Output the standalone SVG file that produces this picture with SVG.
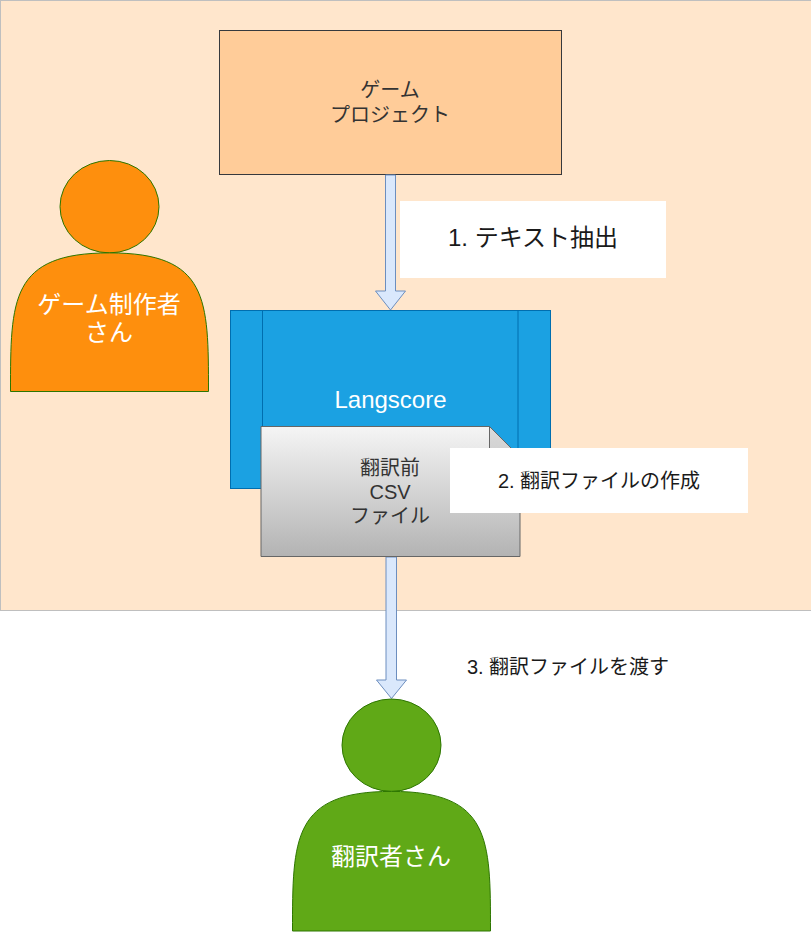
<svg xmlns="http://www.w3.org/2000/svg" width="811" height="932" viewBox="0 0 811 932">
<defs>
<linearGradient id="doc" x1="0" y1="0" x2="0" y2="1"><stop offset="0" stop-color="#f5f5f5"/><stop offset="1" stop-color="#b3b3b3"/></linearGradient>
</defs>
<style>
text{font-family:"Liberation Sans","Noto Sans CJK JP",sans-serif;text-anchor:middle}
.arrow{fill:#dae8fc;stroke:#6c8ebf;stroke-width:1}
.dark{fill:#333333}
.blk{fill:#1a1a1a}
.wht{fill:#ffffff}
.s24{font-size:24px}.s20{font-size:20px}
</style>
<g id="panel"><rect x="0.5" y="0.5" width="811" height="610" fill="#ffe6cc" stroke="#bfbfbf"/></g>
<g id="project"><rect x="219.5" y="30.5" width="342" height="144" fill="#ffcc99" stroke="#36393d"/>
<text class="s20 dark" x="390" y="97">ゲーム</text><text class="s20 dark" x="390" y="122">プロジェクト</text></g>
<g id="connectors">
<path class="arrow" d="M385.5 175V291H375.5L390.5 310L405.5 291H395.5V175Z"/>
<path class="arrow" d="M386 557V680H376.500L391.500 698.500L406.500 680H396.500V557Z"/>
</g>
<g id="langscore"><rect x="230.500" y="310.500" width="320" height="178" fill="#1ba1e2" stroke="#006eaf"/>
<path d="M262.500 310.500V488.500M518 310.500V488.500" fill="none" stroke="#006eaf"/>
<text class="s24 wht" x="390.500" y="408">Langscore</text></g>
<g id="csv-file"><path d="M261 426.500H489.500L520 457V556.500H261Z" fill="url(#doc)" stroke="#666666"/>
<path d="M489.500 426.500V457H520Z" fill="#000000" fill-opacity="0.1" stroke="#666666"/>
<text class="s20 dark" x="390" y="475">翻訳前</text><text class="s20 dark" x="390" y="499">CSV</text><text class="s20 dark" x="390" y="523">ファイル</text></g>
<g id="label-1"><rect x="400" y="201" width="266" height="77" fill="#ffffff"/><text class="s24 blk" x="533" y="246">1. テキスト抽出</text></g>
<g id="label-2"><rect x="450" y="448" width="298" height="65" fill="#ffffff"/><text class="s20 blk" x="599" y="488">2. 翻訳ファイルの作成</text></g>
<g id="label-3"><text class="s20 blk" x="568" y="674">3. 翻訳ファイルを渡す</text></g>
<g id="creator"><ellipse cx="109.500" cy="206.700" rx="49.500" ry="46.200" fill="#fe8f0d" stroke="#2d7600"/>
<path d="M10.500 391.500C10.500 299 10.500 252.900 109.500 252.900C208.500 252.900 208.500 299 208.500 391.500Z" fill="#fe8f0d" stroke="#2d7600"/>
<text class="s24 wht" x="109" y="313">ゲーム制作者</text><text class="s24 wht" x="109" y="341">さん</text></g>
<g id="translator"><ellipse cx="391.500" cy="745.200" rx="49.500" ry="46.200" fill="#60a917" stroke="#2d7600"/>
<path d="M292.500 931C292.500 838.500 292.500 791.400 391.500 791.400C490.500 791.400 490.500 838.500 490.500 931Z" fill="#60a917" stroke="#2d7600"/>
<text class="s24 wht" x="391" y="865">翻訳者さん</text></g>
</svg>
